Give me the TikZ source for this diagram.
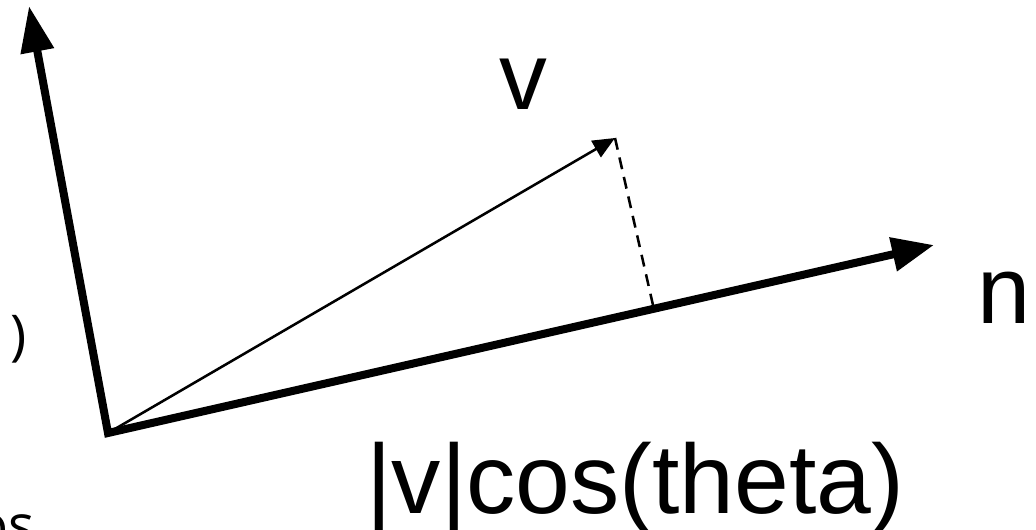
\documentclass[tikz,border=0pt]{standalone}
\usepackage{fontspec}
\setmainfont{Liberation Sans}
\newfontfamily\slidefont{Open Sans}
\usetikzlibrary{positioning,arrows.meta,calc}
\tikzset{
  axis/.style={{Triangle[length=1.15cm,width=0.8cm]}-{Triangle[length=1.05cm,width=0.82cm]}, line width=5.7pt, line join=miter},
  vec/.style={-{Triangle[length=0.55cm,width=0.47cm]}, line width=1.8pt},
  proj/.style={dash pattern=on 8.5pt off 5.7pt, line width=1.8pt},
  lbl/.style={font=\fontsize{68}{80}\selectfont, inner sep=0pt},
  cut/.style={font=\slidefont\fontsize{39}{46}\selectfont, inner sep=0pt}
}
\begin{document}
\begin{tikzpicture}[x=0.025cm,y=-0.025cm]
  \useasboundingbox (0,0) rectangle (1036,530);
  \clip (0,0) rectangle (1036,530);
  \coordinate (o) at (108,433);
  \coordinate (ytip) at (29,6);
  \coordinate (ntip) at (934,245);
  \coordinate (vtip) at (615,138);
  \coordinate (foot) at ($(o)!(vtip)!(ntip)$);
  \draw[axis] (ytip) -- (o) -- (ntip);
  \draw[vec] (o) -- (vtip);
  \draw[proj] (vtip) -- (foot);
  \node[lbl, anchor=base] (vlbl) at (523,110) {v};
  \node[lbl, anchor=base] (nlbl) at (1004,323) {n};
  \node[lbl, anchor=base west, font=\fontsize{70}{82}\selectfont] (proj) at (366,513) {|v|cos(theta)};
  % text of the slide cut off at the left edge
  \node[cut, anchor=base east] (paren) at (27,354) {)};
  \node[cut, anchor=north east] (cos) at (35,514) {os};
\end{tikzpicture}
\end{document}
